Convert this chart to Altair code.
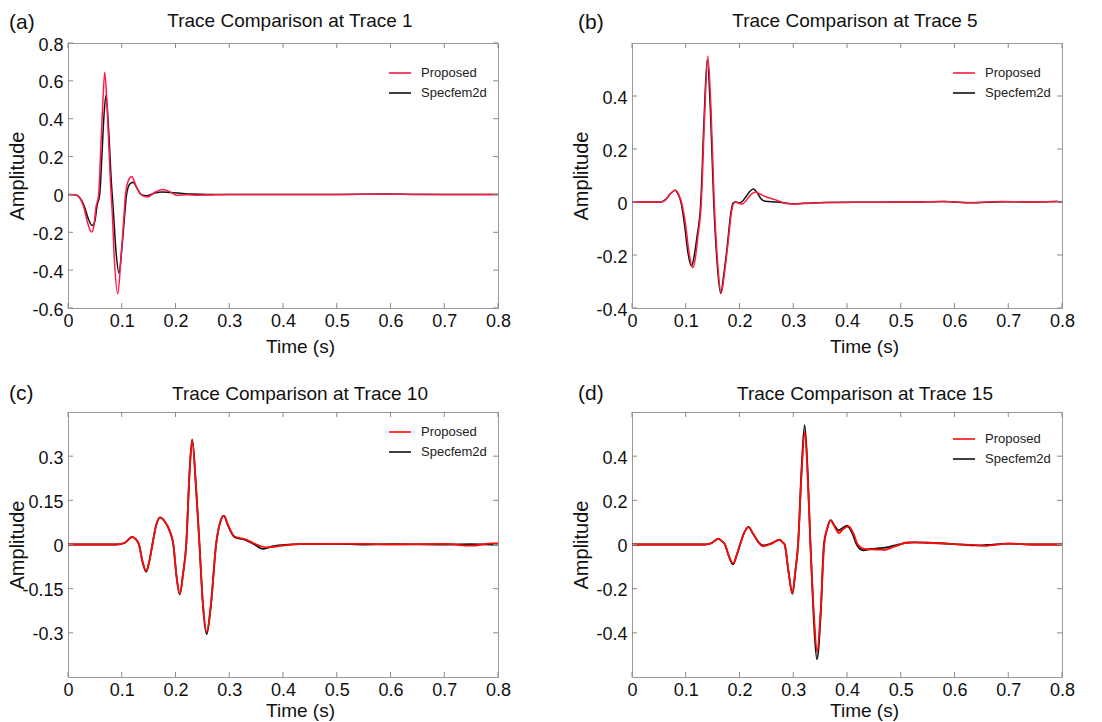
import altair as alt
import pandas as pd

FONT = "Liberation Sans, Arial, Helvetica, sans-serif"
X_TICKS = [0, 0.1, 0.2, 0.3, 0.4, 0.5, 0.6, 0.7, 0.8]
SERIES = ["Proposed", "Specfem2d"]

# ---------------- Panel (a): Trace 1 ----------------
A_T_PROP = [0.0, 0.014, 0.022, 0.029, 0.0365, 0.0436, 0.048, 0.052, 0.057, 0.061,
            0.065, 0.0684, 0.073, 0.079, 0.082, 0.0866, 0.0925, 0.098, 0.104, 0.107,
            0.113, 0.1184, 0.126, 0.135, 0.148, 0.161, 0.176, 0.188, 0.203, 0.22,
            0.24, 0.26, 0.3, 0.4, 0.5, 0.6, 0.7, 0.8]
A_Y_PROP = [0.0, -0.002, -0.02, -0.064, -0.15, -0.199, -0.17, -0.07, 0.0, 0.24,
            0.5, 0.645, 0.45, 0.06, -0.08, -0.36, -0.526, -0.36, -0.12, 0.0,
            0.078, 0.095, 0.05, 0.0, -0.014, 0.01, 0.026, 0.016, -0.005, -0.002,
            -0.004, -0.003, 0.0, 0.0, 0.0, 0.001, 0.0, 0.0]
A_T_SPEC = [0.0, 0.014, 0.022, 0.03, 0.038, 0.045, 0.05, 0.054, 0.059, 0.063,
            0.067, 0.0707, 0.075, 0.081, 0.084, 0.089, 0.0949, 0.1, 0.106, 0.109,
            0.115, 0.121, 0.128, 0.136, 0.146, 0.16, 0.175, 0.19, 0.205, 0.23,
            0.26, 0.3, 0.4, 0.5, 0.6, 0.65, 0.7, 0.8]
A_Y_SPEC = [0.0, -0.002, -0.018, -0.06, -0.13, -0.164, -0.14, -0.06, 0.0, 0.2,
            0.42, 0.524, 0.37, 0.05, -0.07, -0.29, -0.416, -0.29, -0.09, 0.0,
            0.055, 0.065, 0.035, 0.0, -0.007, 0.006, 0.013, 0.01, 0.007, 0.002,
            0.0, 0.0, 0.0, 0.0, 0.002, 0.0, 0.0, 0.0]
A_Y_TICKS = [-0.6, -0.4, -0.2, 0, 0.2, 0.4, 0.6, 0.8]
A_Y_DOMAIN = [-0.6, 0.8]

# ---------------- Panel (b): Trace 5 ----------------
B_T_PROP = [0.0, 0.054, 0.063, 0.072, 0.0806, 0.087, 0.092, 0.1, 0.106, 0.113,
            0.118, 0.122, 0.129, 0.135, 0.141, 0.147, 0.153, 0.159, 0.166, 0.172,
            0.178, 0.185, 0.189, 0.194, 0.2, 0.205, 0.212, 0.22, 0.229, 0.238,
            0.248, 0.266, 0.284, 0.298, 0.32, 0.36, 0.45, 0.53, 0.58, 0.63,
            0.69, 0.74, 0.79, 0.8]
B_Y_PROP = [0.0, 0.0, 0.01, 0.032, 0.044, 0.028, 0.0, -0.09, -0.19, -0.248,
            -0.21, -0.14, 0.0, 0.32, 0.551, 0.35, 0.0, -0.22, -0.343, -0.27,
            -0.167, -0.04, -0.006, 0.0, -0.006, -0.008, 0.005, 0.025, 0.038, 0.03,
            0.021, 0.009, -0.004, -0.008, -0.006, -0.002, -0.001, 0.0, 0.002, -0.002,
            0.002, 0.0, 0.002, 0.0]
B_T_SPEC = [0.0, 0.054, 0.063, 0.072, 0.08, 0.086, 0.091, 0.098, 0.104, 0.1106,
            0.116, 0.121, 0.128, 0.134, 0.14, 0.146, 0.152, 0.158, 0.165, 0.171,
            0.177, 0.184, 0.188, 0.193, 0.199, 0.205, 0.212, 0.219, 0.226, 0.233,
            0.24, 0.248, 0.27, 0.285, 0.3, 0.32, 0.36, 0.45, 0.53, 0.58,
            0.63, 0.69, 0.74, 0.79, 0.8]
B_Y_SPEC = [0.0, 0.0, 0.01, 0.032, 0.044, 0.028, 0.0, -0.09, -0.19, -0.242,
            -0.2, -0.13, 0.0, 0.31, 0.536, 0.34, 0.0, -0.22, -0.345, -0.27,
            -0.17, -0.04, -0.004, 0.0, -0.004, 0.002, 0.02, 0.04, 0.049, 0.035,
            0.012, 0.003, 0.0, -0.004, -0.007, -0.005, -0.002, -0.001, 0.0, 0.002,
            -0.003, 0.001, 0.0, 0.002, 0.0]
B_Y_TICKS = [-0.4, -0.2, 0, 0.2, 0.4]
B_Y_DOMAIN = [-0.4, 0.6]

# ---------------- Panel (c): Trace 10 ----------------
C_T_PROP = [0.0, 0.09, 0.105, 0.1195, 0.126, 0.132, 0.139, 0.1455, 0.151, 0.157,
            0.164, 0.1715, 0.18, 0.189, 0.196, 0.202, 0.208, 0.214, 0.22, 0.226,
            0.231, 0.238, 0.2446, 0.251, 0.258, 0.266, 0.2755, 0.283, 0.29, 0.298,
            0.31, 0.331, 0.347, 0.37, 0.4, 0.43, 0.5, 0.55, 0.6, 0.7,
            0.75, 0.79, 0.8]
C_Y_PROP = [0.0, 0.0, 0.005, 0.025, 0.018, 0.0, -0.06, -0.09, -0.06, 0.0,
            0.065, 0.091, 0.078, 0.048, 0.0, -0.11, -0.168, -0.1, 0.0, 0.24,
            0.355, 0.2, 0.0, -0.2, -0.297, -0.2, 0.0, 0.075, 0.097, 0.065,
            0.027, 0.017, 0.003, -0.01, -0.004, 0.001, 0.002, 0.002, 0.0, 0.002,
            -0.004, 0.004, 0.004]
C_T_SPEC = [0.0, 0.09, 0.105, 0.1195, 0.126, 0.132, 0.139, 0.1455, 0.151, 0.157,
            0.164, 0.1715, 0.18, 0.189, 0.196, 0.202, 0.208, 0.214, 0.22, 0.226,
            0.231, 0.238, 0.2446, 0.251, 0.258, 0.266, 0.2755, 0.283, 0.29, 0.298,
            0.31, 0.331, 0.347, 0.362, 0.38, 0.43, 0.5, 0.55, 0.6, 0.7,
            0.75, 0.79, 0.8]
C_Y_SPEC = [0.0, 0.0, 0.005, 0.026, 0.018, 0.0, -0.062, -0.093, -0.06, 0.0,
            0.065, 0.092, 0.078, 0.046, 0.0, -0.11, -0.17, -0.1, 0.0, 0.24,
            0.357, 0.2, 0.0, -0.205, -0.304, -0.205, 0.0, 0.075, 0.098, 0.063,
            0.025, 0.015, 0.0, -0.015, -0.006, 0.001, 0.002, 0.0, 0.001, 0.0,
            0.001, 0.0, 0.0]
C_Y_TICKS = [-0.3, -0.15, 0, 0.15, 0.3]
C_Y_DOMAIN = [-0.45, 0.45]

# ---------------- Panel (d): Trace 15 ----------------
D_T_PROP = [0.0, 0.135, 0.148, 0.1606, 0.167, 0.173, 0.18, 0.188, 0.195, 0.201,
            0.209, 0.2165, 0.225, 0.235, 0.244, 0.259, 0.275, 0.28, 0.284, 0.291,
            0.2985, 0.304, 0.309, 0.315, 0.3215, 0.327, 0.332, 0.338, 0.3445, 0.351,
            0.3576, 0.363, 0.3694, 0.377, 0.385, 0.393, 0.403, 0.412, 0.42, 0.432,
            0.447, 0.459, 0.47, 0.482, 0.494, 0.51, 0.525, 0.55, 0.6, 0.635,
            0.66, 0.7, 0.75, 0.8]
D_Y_PROP = [0.0, 0.0, 0.006, 0.026, 0.015, 0.0, -0.05, -0.085, -0.045, 0.0,
            0.055, 0.079, 0.05, 0.011, -0.008, 0.003, 0.021, 0.01, 0.0, -0.12,
            -0.221, -0.12, 0.0, 0.3, 0.511, 0.3, 0.0, -0.3, -0.485, -0.3,
            0.0, 0.07, 0.109, 0.08, 0.052, 0.07, 0.082, 0.05, 0.0, -0.02,
            -0.022, -0.023, -0.024, -0.015, -0.005, 0.008, 0.01, 0.008, 0.002, -0.002,
            -0.006, 0.004, 0.0, 0.0]
D_T_SPEC = [0.0, 0.135, 0.148, 0.1606, 0.167, 0.173, 0.18, 0.188, 0.195, 0.201,
            0.209, 0.2165, 0.225, 0.235, 0.244, 0.259, 0.275, 0.28, 0.284, 0.291,
            0.2985, 0.304, 0.309, 0.315, 0.3212, 0.327, 0.332, 0.338, 0.344, 0.351,
            0.357, 0.363, 0.3694, 0.377, 0.384, 0.392, 0.4, 0.41, 0.418, 0.43,
            0.445, 0.46, 0.476, 0.487, 0.497, 0.51, 0.525, 0.55, 0.6, 0.635,
            0.66, 0.7, 0.75, 0.8]
D_Y_SPEC = [0.0, 0.0, 0.006, 0.027, 0.015, 0.0, -0.052, -0.09, -0.047, 0.0,
            0.055, 0.08, 0.05, 0.012, -0.004, 0.005, 0.022, 0.01, 0.0, -0.12,
            -0.224, -0.12, 0.0, 0.32, 0.541, 0.32, 0.0, -0.33, -0.52, -0.32,
            0.0, 0.07, 0.11, 0.085, 0.064, 0.075, 0.085, 0.05, 0.0, -0.026,
            -0.02, -0.017, -0.012, -0.005, 0.0, 0.008, 0.01, 0.008, 0.002, -0.004,
            -0.002, 0.004, 0.0, 0.0]
D_Y_TICKS = [-0.4, -0.2, 0, 0.2, 0.4]
D_Y_DOMAIN = [-0.6, 0.6]

W, H = 430, 265
TICK_COLOR = "#8a8a8a"
TEXT_COLOR = "#111111"


def panel(letter, title, t_prop, y_prop, t_spec, y_spec, yticks, ydomain,
          red, stroke_w, letter_x, letter_y, title_x, title_y, legend_y, xtitle_y):
    df_prop = pd.DataFrame({"t": t_prop, "amp": y_prop, "series": "Proposed"})
    df_spec = pd.DataFrame({"t": t_spec, "amp": y_spec, "series": "Specfem2d"})
    xscale = alt.Scale(domain=[0, 0.8], nice=False, zero=False)
    yscale = alt.Scale(domain=ydomain, nice=False, zero=False)
    xaxis = alt.Axis(values=X_TICKS, labelExpr="'' + datum.value", title="Time (s)",
                     titleFontSize=19, titleFontWeight="normal", titleColor=TEXT_COLOR,
                     labelFontSize=18, labelColor=TEXT_COLOR, labelPadding=4,
                     ticks=False, tickSize=0, domain=False, grid=False,
                     labelFlush=False, labelOverlap=False,
                     titleX=232, titleY=xtitle_y, titleBaseline="alphabetic",
                     titleAlign="center")
    yaxis = alt.Axis(values=yticks, labelExpr="'' + datum.value", title="Amplitude",
                     titleFontSize=20, titleFontWeight="normal", titleColor=TEXT_COLOR,
                     labelFontSize=18, labelColor=TEXT_COLOR, labelPadding=5,
                     labelOffset=2,
                     ticks=False, tickSize=0, domain=False, grid=False,
                     labelFlush=False, labelOverlap=False,
                     titleX=-45, titleY=H / 2, titleBaseline="alphabetic",
                     titleAlign="center")
    legend = alt.Legend(title=None, orient="none", legendX=320, legendY=legend_y,
                        symbolType="stroke", symbolSize=484, symbolStrokeWidth=1.6,
                        labelFont=FONT, labelFontSize=13, labelColor="#222222",
                        labelOffset=9, rowPadding=1, padding=0, direction="vertical")
    color = alt.Color("series:N",
                      scale=alt.Scale(domain=SERIES, range=[red, "#111111"]),
                      legend=legend)
    x_enc = alt.X("t:Q", scale=xscale, axis=xaxis)
    y_enc = alt.Y("amp:Q", scale=yscale, axis=yaxis)

    spec_line = alt.Chart(df_spec).mark_line(
        interpolate="monotone", strokeWidth=stroke_w
    ).encode(x=x_enc, y=y_enc, color=color)
    prop_line = alt.Chart(df_prop).mark_line(
        interpolate="monotone", strokeWidth=stroke_w
    ).encode(x=x_enc, y=y_enc, color=color)

    xt = pd.DataFrame({"t": X_TICKS})
    yt = pd.DataFrame({"amp": yticks})
    tick_b = alt.Chart(xt).mark_rule(color=TICK_COLOR, strokeWidth=1).encode(
        x=x_enc, y=alt.value(H), y2=alt.value(H - 5))
    tick_t = alt.Chart(xt).mark_rule(color=TICK_COLOR, strokeWidth=1).encode(
        x=x_enc, y=alt.value(0), y2=alt.value(5))
    tick_l = alt.Chart(yt).mark_rule(color=TICK_COLOR, strokeWidth=1).encode(
        y=y_enc, x=alt.value(0), x2=alt.value(5))
    tick_r = alt.Chart(yt).mark_rule(color=TICK_COLOR, strokeWidth=1).encode(
        y=y_enc, x=alt.value(W), x2=alt.value(W - 5))

    letter_txt = alt.Chart(pd.DataFrame({"s": [letter]})).mark_text(
        align="left", baseline="alphabetic", font=FONT, fontSize=21, color=TEXT_COLOR
    ).encode(text="s:N", x=alt.value(letter_x), y=alt.value(letter_y))
    title_txt = alt.Chart(pd.DataFrame({"s": [title]})).mark_text(
        align="center", baseline="alphabetic", font=FONT, fontSize=19, color=TEXT_COLOR
    ).encode(text="s:N", x=alt.value(title_x), y=alt.value(title_y))

    return alt.layer(spec_line, prop_line, tick_b, tick_t, tick_l, tick_r,
                     letter_txt, title_txt).properties(width=W, height=H)


pa = panel("(a)", "Trace Comparison at Trace 1", A_T_PROP, A_Y_PROP, A_T_SPEC, A_Y_SPEC,
           A_Y_TICKS, A_Y_DOMAIN, "#ff1a48", 1.5, -59, -14, 222, -16, 18, 44)
pb = panel("(b)", "Trace Comparison at Trace 5", B_T_PROP, B_Y_PROP, B_T_SPEC, B_Y_SPEC,
           B_Y_TICKS, B_Y_DOMAIN, "#ff1a40", 1.5, -54, -14, 223, -16, 18, 44)
pc = panel("(c)", "Trace Comparison at Trace 10", C_T_PROP, C_Y_PROP, C_T_SPEC, C_Y_SPEC,
           C_Y_TICKS, C_Y_DOMAIN, "#ff0a0a", 1.8, -59, -12, 232, -12, 8, 39)
pd_ = panel("(d)", "Trace Comparison at Trace 15", D_T_PROP, D_Y_PROP, D_T_SPEC, D_Y_SPEC,
            D_Y_TICKS, D_Y_DOMAIN, "#ff0a0a", 1.8, -54, -12, 233, -12, 15, 39)

chart = alt.concat(
    pa, pb, pc, pd_, columns=2,
    spacing={"row": 104, "column": 134}, bounds="flush"
).resolve_scale(
    x="independent", y="independent", color="independent"
).resolve_axis(
    x="independent", y="independent"
).resolve_legend(
    color="independent"
).properties(
    padding={"left": 6, "top": 11, "right": 10, "bottom": 2},
    background="white",
).configure_view(
    stroke="#9a9a9a", strokeWidth=1
).configure_axis(
    labelFont=FONT, titleFont=FONT
).configure_text(
    font=FONT
)

chart.save("out.html", embed_options={"renderer": "svg", "actions": False})
